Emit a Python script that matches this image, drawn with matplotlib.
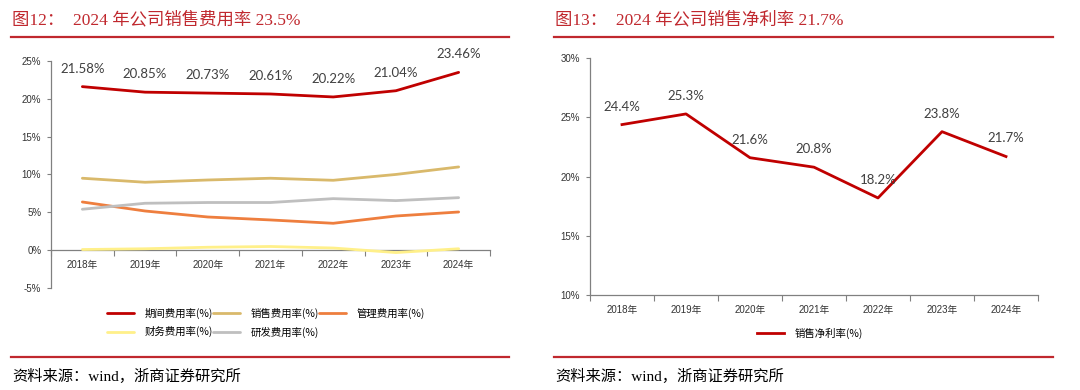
import numpy as np
import matplotlib.pyplot as plt
from matplotlib.lines import Line2D

# data
years = ['2018年', '2019年', '2020年', '2021年', '2022年', '2023年', '2024年']
period_rate = [21.58, 20.85, 20.73, 20.61, 20.22, 21.04, 23.46]
sales_rate = [9.5, 8.97, 9.27, 9.5, 9.23, 10.0, 10.99]
admin_rate = [6.37, 5.18, 4.39, 4.0, 3.56, 4.52, 5.05]
finance_rate = [0.1, 0.2, 0.4, 0.5, 0.3, -0.3, 0.2]
rd_rate = [5.41, 6.2, 6.3, 6.3, 6.81, 6.55, 6.94]
net_margin = [24.4, 25.3, 21.6, 20.8, 18.2, 23.8, 21.7]

left_title = '图12：  2024 年公司销售费用率 23.5%'
right_title = '图13：  2024 年公司销售净利率 21.7%'
source_text = '资料来源：wind，浙商证券研究所'

RED = '#C00000'
TITLE_RED = '#C0282E'
SERIF = ['Liberation Serif', 'Noto Sans CJK SC']
SANS = ['Liberation Sans', 'Noto Sans CJK SC']
LABEL = ['Lato', 'DejaVu Sans']
AXIS_GRAY = '#808080'

W, H = 1080, 390
fig = plt.figure(figsize=(W / 100, H / 100), dpi=100)


def fx(px):
    return px / W


def fy(py):
    return 1 - py / H


def frame(x0, x1, title):
    fig.text(fx(x0 + 1), fy(20), title, family=SERIF, fontsize=12.5,
             color=TITLE_RED, va='center', ha='left')
    fig.add_artist(Line2D([fx(x0), fx(x1)], [fy(36.5), fy(36.5)],
                          color=TITLE_RED, lw=1.6))
    fig.add_artist(Line2D([fx(x0), fx(x1)], [fy(357), fy(357)],
                          color=TITLE_RED, lw=1.6))
    fig.text(fx(x0 + 1), fy(376), source_text, family=SERIF, fontsize=11,
             color='black', va='center', ha='left')


def style_axes(ax, ymin, ymax, step):
    x = np.arange(len(years))
    ax.set_xlim(-0.5, len(years) - 0.5)
    ax.set_ylim(ymin, ymax)
    yt = np.arange(ymin, ymax + 0.1, step)
    ax.set_yticks(yt)
    ax.set_yticklabels([f'{int(v)}%' for v in yt], family=SANS, fontsize=7,
                       color='#333333')
    ax.set_xticks(x)
    ax.set_xticklabels(years, family=SANS, fontsize=7, color='#333333')
    ax.set_xticks(np.arange(-0.5, len(years)), minor=True)
    ax.tick_params(axis='x', which='major', length=0, pad=7)
    ax.tick_params(axis='x', which='minor', length=4, direction='out',
                   color=AXIS_GRAY, width=0.8)
    ax.tick_params(axis='y', length=3, direction='out', color=AXIS_GRAY,
                   width=0.8, pad=4)
    for s in ['top', 'right']:
        ax.spines[s].set_visible(False)
    for s in ['left', 'bottom']:
        ax.spines[s].set_color(AXIS_GRAY)
        ax.spines[s].set_linewidth(0.9)
    ax.patch.set_alpha(0)
    return x


# ---- left chart ----
frame(11, 509, left_title)
ax1 = fig.add_axes([fx(51), fy(288.2), fx(490) - fx(51), fy(60.7) - fy(288.2)])
ax1.spines['bottom'].set_position(('data', 0))
x = style_axes(ax1, -5, 25, 5)

series = [
    ('期间费用率(%)', period_rate, RED),
    ('销售费用率(%)', sales_rate, '#D9B96B'),
    ('管理费用率(%)', admin_rate, '#EE7E3E'),
    ('财务费用率(%)', finance_rate, '#FFF08A'),
    ('研发费用率(%)', rd_rate, '#BFBFBF'),
]
handles = {}
for name, vals, col in series:
    h, = ax1.plot(x, vals, color=col, lw=2.0, solid_capstyle='round', zorder=3)
    handles[name] = h
for xi, v in zip(x, period_rate):
    ax1.annotate(f'{v:.2f}%', (xi, v), xytext=(0, 13), textcoords='offset points',
                 ha='center', va='center', family=LABEL, fontsize=9.5,
                 color='#404040')

# legend fills column by column, so order entries to read row by row
leg_order = ['期间费用率(%)', '财务费用率(%)', '销售费用率(%)',
             '研发费用率(%)', '管理费用率(%)']
fig.legend([handles[n] for n in leg_order], leg_order, ncol=3,
           loc='center left', bbox_to_anchor=(fx(98), fy(322.5)),
           frameon=False, handlelength=2.6, handletextpad=1.0,
           columnspacing=0.0, labelspacing=0.75,
           prop={'family': ['Noto Sans CJK SC'], 'size': 7.5})

# ---- right chart ----
frame(554, 1053, right_title)
ax2 = fig.add_axes([fx(590), fy(295), fx(1038) - fx(590), fy(58.3) - fy(295)])
x = style_axes(ax2, 10, 30, 5)
h2, = ax2.plot(x, net_margin, color=RED, lw=2.0, zorder=3)
for xi, v in zip(x, net_margin):
    ax2.annotate(f'{v:.1f}%', (xi, v), xytext=(0, 13), textcoords='offset points',
                 ha='center', va='center', family=LABEL, fontsize=9.5,
                 color='#404040')
fig.legend([h2], ['销售净利率(%)'], loc='center left',
           bbox_to_anchor=(fx(748), fy(333)), frameon=False,
           handlelength=2.6, handletextpad=1.0,
           prop={'family': ['Noto Sans CJK SC'], 'size': 7.5})

fig.savefig('out.png', dpi=100)
